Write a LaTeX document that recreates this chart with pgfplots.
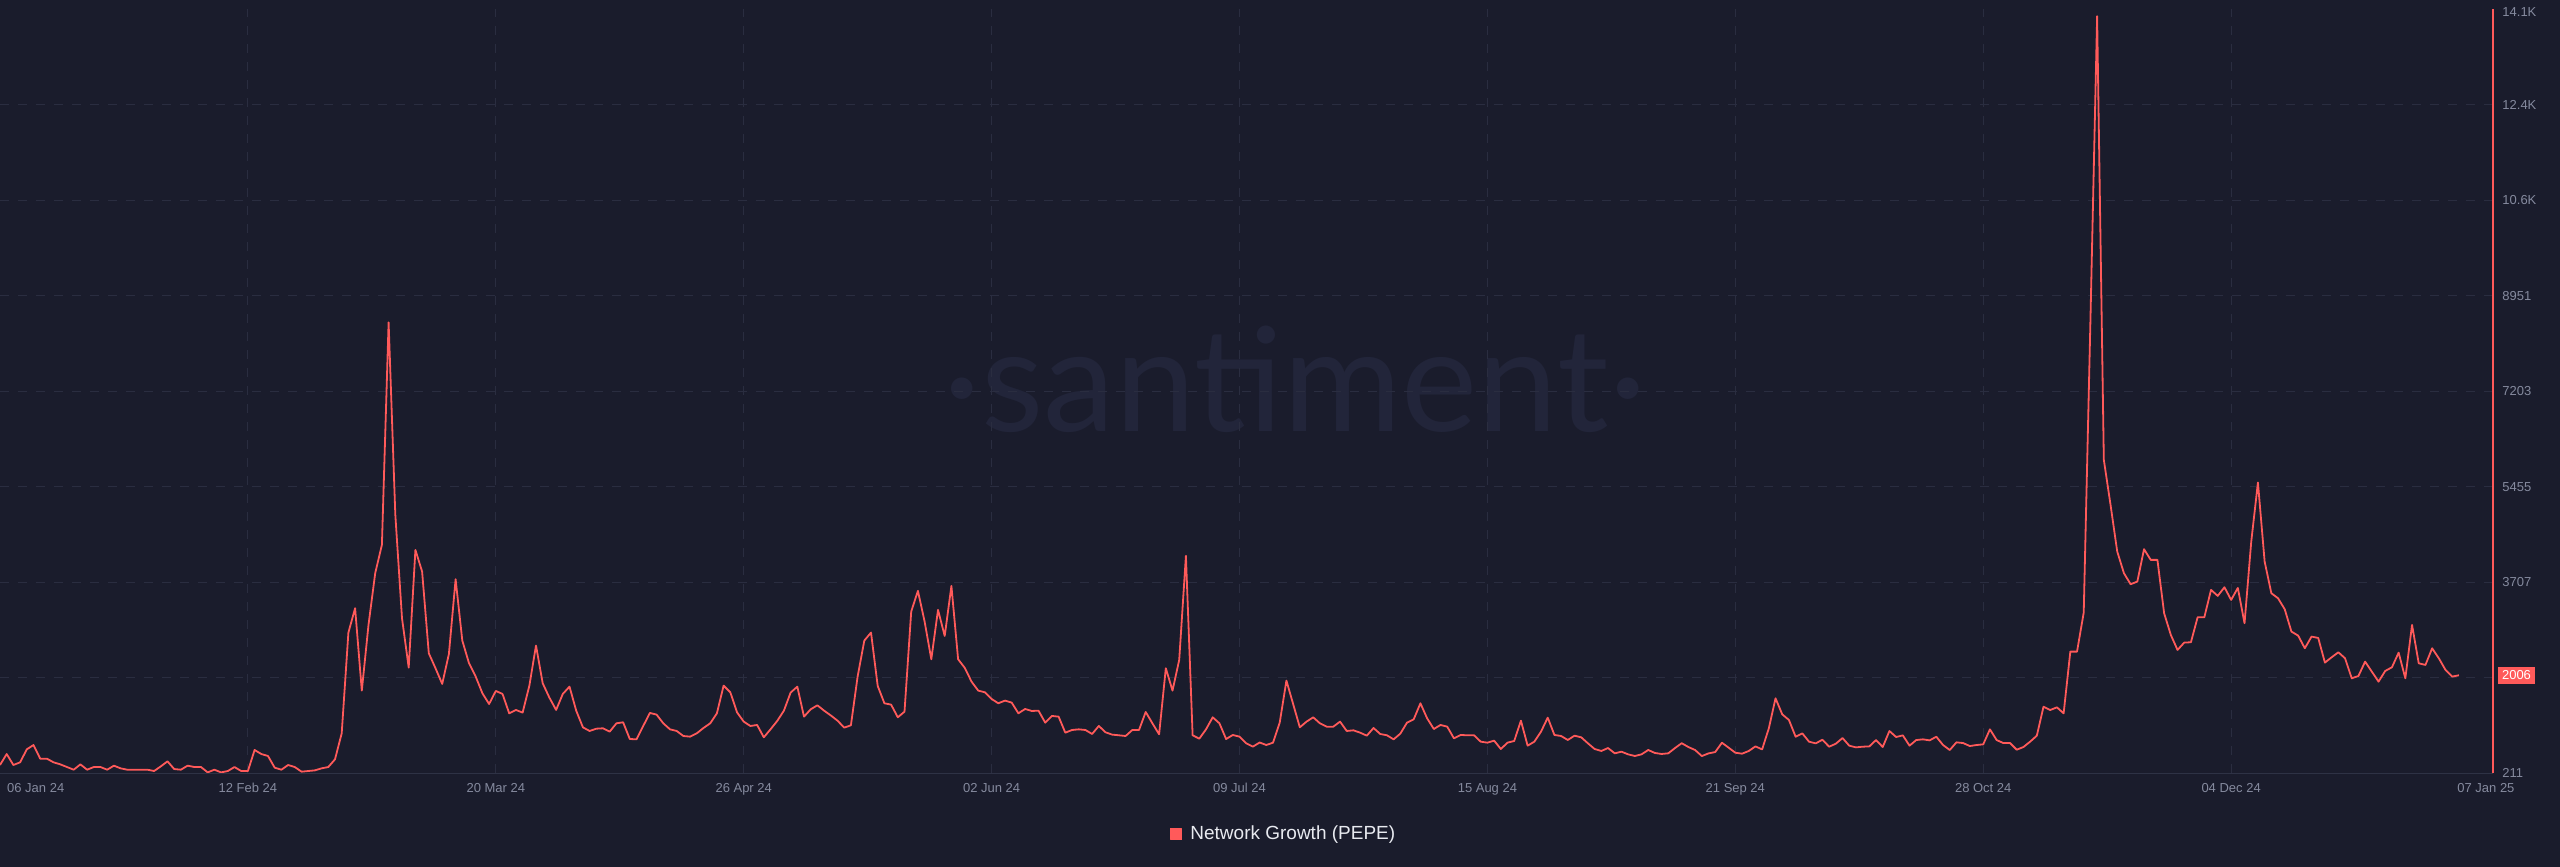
\documentclass[border=0pt]{standalone}
\usepackage{fontspec}
\setmainfont{Liberation Sans}
\newfontfamily\wmfont{Lato}
\usepackage{pgfplots}
\usepackage{pgfplotstable}
\pgfplotsset{compat=1.18}
\definecolor{bg}{HTML}{1A1C2C}
\definecolor{gridc}{HTML}{2A2D40}
\definecolor{axisc}{HTML}{2E3245}
\definecolor{tickc}{HTML}{858A9E}
\definecolor{pred}{HTML}{FF5A5A}
\definecolor{wm}{HTML}{22253A}
\definecolor{legc}{HTML}{E8EAF0}

\pgfplotstableread{
day value
0 363
1 564
2 363
3 412
4 650
5 729
6 479
7 479
8 412
9 375
10 326
11 277
12 375
13 277
14 326
15 326
16 277
17 351
18 302
19 277
20 277
21 277
22 277
23 253
24 338
25 430
26 289
27 277
28 351
29 326
30 326
31 228
32 277
33 228
34 253
35 326
36 253
37 253
38 638
39 564
40 528
41 314
42 277
43 363
44 326
45 241
46 253
47 265
48 302
49 326
50 467
51 943
52 2787
53 3233
54 1725
55 2928
56 3874
57 4393
58 8467
59 4950
60 3050
61 2146
62 4300
63 3905
64 2409
65 2134
66 1847
67 2396
68 3764
69 2641
70 2226
71 1981
72 1676
73 1480
74 1719
75 1664
76 1309
77 1371
78 1322
79 1810
80 2549
81 1859
82 1596
83 1371
84 1664
85 1798
86 1358
87 1053
88 986
89 1028
90 1035
91 974
92 1126
93 1145
94 839
95 833
96 1077
97 1316
98 1285
99 1126
100 1016
101 986
102 894
103 882
104 943
105 1041
106 1126
107 1309
108 1816
109 1694
110 1328
111 1157
112 1077
113 1096
114 870
115 1016
116 1169
117 1358
118 1688
119 1798
120 1248
121 1383
122 1456
123 1358
124 1270
125 1175
126 1047
127 1090
128 1981
129 2641
130 2787
131 1810
132 1493
133 1468
134 1236
135 1340
136 3172
137 3551
138 2989
139 2299
140 3203
141 2726
142 3642
143 2299
144 2140
145 1890
146 1725
147 1694
148 1572
149 1493
150 1542
151 1505
152 1309
153 1389
154 1352
155 1358
156 1138
157 1261
158 1248
159 955
160 1004
161 1016
162 1004
163 931
164 1078
165 962
166 919
167 907
168 894
169 1004
170 1004
171 1334
172 1126
173 925
174 2134
175 1725
176 2287
177 4192
178 907
179 845
180 1016
181 1236
182 1126
183 839
184 913
185 882
186 760
187 699
188 775
189 729
190 772
191 1139
192 1908
193 1481
194 1053
195 1157
196 1236
197 1126
198 1065
199 1065
200 1157
201 986
202 998
203 955
204 900
205 1041
206 931
207 907
208 833
209 937
210 1139
211 1200
212 1493
213 1218
214 1022
215 1096
216 1065
217 852
218 913
219 907
220 907
221 790
222 772
223 809
224 656
225 772
226 803
227 1175
228 717
229 790
230 974
231 1230
232 913
233 894
234 821
235 900
236 870
237 760
238 656
239 620
240 674
241 577
242 607
243 558
244 528
245 558
246 638
247 583
248 565
249 577
250 674
251 762
252 692
253 637
254 527
255 576
256 600
257 771
258 680
259 588
260 570
261 619
262 704
263 649
264 1034
265 1584
266 1291
267 1187
268 881
269 942
270 790
271 759
272 826
273 698
274 753
275 857
276 717
277 686
278 698
279 704
280 820
281 692
282 985
283 875
284 906
285 717
286 820
287 833
288 814
289 881
290 729
291 637
292 778
293 765
294 710
295 729
296 741
297 1016
298 820
299 765
300 765
301 643
302 692
303 790
304 900
305 1431
306 1370
307 1419
308 1309
309 2439
310 2439
311 3153
312 8500
313 14070
314 5950
315 5126
316 4271
317 3874
318 3672
319 3721
320 4314
321 4118
322 4118
323 3141
324 2744
325 2469
326 2604
327 2610
328 3068
329 3068
330 3569
331 3459
332 3617
333 3385
334 3605
335 2958
336 4450
337 5535
338 4088
339 3508
340 3416
341 3214
342 2805
343 2732
344 2500
345 2714
346 2689
347 2237
348 2335
349 2427
350 2317
351 1950
352 1993
353 2256
354 2072
355 1889
356 2085
357 2152
358 2420
359 1950
360 2927
361 2225
362 2195
363 2500
364 2317
365 2103
366 1981
367 2006
}\datatable

\begin{document}
\begin{tikzpicture}
\fill[bg] (0bp,0bp) rectangle (1280bp,-433.5bp);
\node[text=wm, font=\wmfont\fontsize{72bp}{80bp}\selectfont] at (647.5bp,-189.5bp) {·santiment·};
\begin{axis}[
  at={(0bp,-4.7bp)}, anchor=north west,
  scale only axis, width=1246.5bp, height=381.95bp,
  xmin=0, xmax=372.09, ymin=211, ymax=14195,
  clip=false,
  axis line style={draw=none},
  major tick length=0pt,
  tick style={draw=none},
  xtick={0,37,74,111,148,185,222,259,296,333,367},
  xticklabels={\hspace*{35.7bp}06 Jan 24,12 Feb 24,20 Mar 24,26 Apr 24,02 Jun 24,09 Jul 24,15 Aug 24,21 Sep 24,28 Oct 24,04 Dec 24,\hspace*{27bp}07 Jan 25},
  extra x ticks={37,74,111,148,185,222,259,296,333},
  extra x tick labels={},
  extra x tick style={grid=major},
  ytick={211,1959,3707,5455,7203,8951,10699,12447},
  yticklabels={211,,3707,5455,7203,8951,10.6K,12.4K},
  ymajorgrids,
  extra y ticks={14195},
  extra y tick labels={14.1K},
  extra y tick style={grid=none, yticklabel style={yshift=-1.2bp}},
  grid style={gridc, line width=0.5bp, dash pattern=on 4.5bp off 4.5bp},
  yticklabel pos=right,
  xticklabel style={font=\fontsize{6.5bp}{7.5bp}\selectfont, text=tickc, anchor=north, inner sep=0pt, yshift=-4.7bp},
  yticklabel style={font=\fontsize{6.5bp}{7.5bp}\selectfont, text=tickc, anchor=west, inner sep=0pt, xshift=4.5bp},
  legend style={at={(rel axis cs:0.469,-0.0795)}, anchor=west, draw=none, fill=none, text=legc,
    font=\fontsize{9.5bp}{11bp}\selectfont, inner sep=0pt, nodes={inner sep=0pt},
    /tikz/every odd column/.append style={column sep=4bp}},
  legend image code/.code={\fill[pred] (0bp,-2.75bp) rectangle (5.5bp,2.75bp);},
]
\addplot[pred, line width=0.9bp, line join=round] table[x=day, y=value]{\datatable};
\addlegendentry{Network Growth (PEPE)}
\draw[axisc, line width=0.6bp] (rel axis cs:0,0) -- (rel axis cs:1,0);
\draw[pred, line width=0.7bp] (rel axis cs:1,0) -- (rel axis cs:1,1);
\node[fill=pred, text=white, font=\fontsize{6.5bp}{7.5bp}\selectfont, inner xsep=2bp, inner ysep=0pt, minimum height=8.5bp, anchor=west, xshift=2.3bp] at (axis cs:372.09,2006) {2006};
\end{axis}
\pgfresetboundingbox
\path[use as bounding box] (0bp,0bp) rectangle (1280bp,-433.5bp);
\end{tikzpicture}
\end{document}
